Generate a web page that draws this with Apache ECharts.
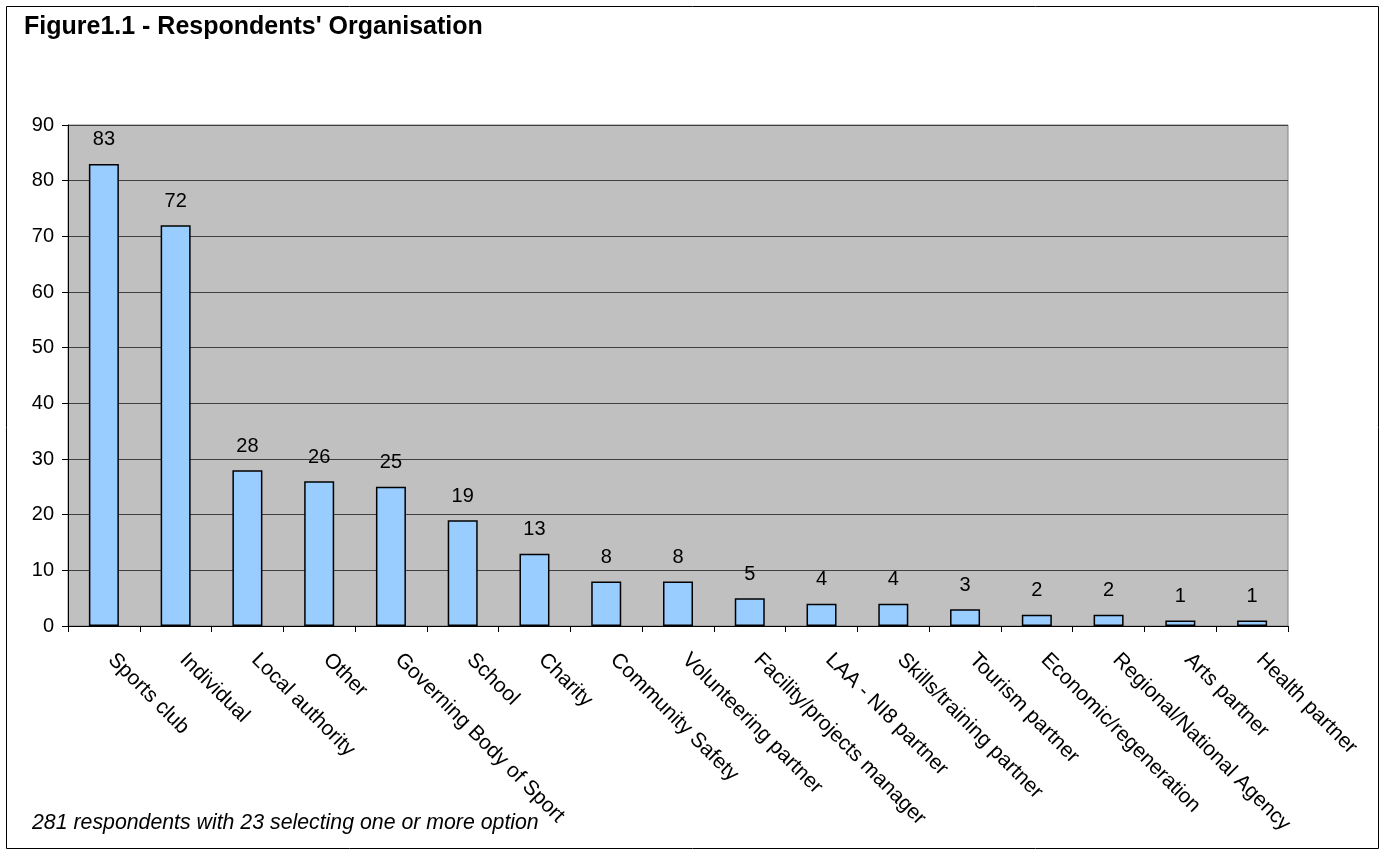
<!DOCTYPE html>
<html><head><meta charset="utf-8">
<script src="https://cdn.jsdelivr.net/npm/echarts@6/dist/echarts.min.js"></script>
<style>html,body{margin:0;padding:0;background:#fff}#c{width:1382px;height:852px}</style>
</head><body><div id="c"></div>
<script>
const categories = ["Sports club","Individual","Local authority","Other","Governing Body of Sport","School","Charity","Community Safety","Volunteering partner","Facility/projects manager","LAA - NI8 partner","Skills/training partner","Tourism partner","Economic/regeneration","Regional/National Agency","Arts partner","Health partner"];
const values = [83,72,28,26,25,19,13,8,8,5,4,4,3,2,2,1,1];
const yTicks = {min:0, max:90, interval:10};
const titleText = "Figure1.1 - Respondents' Organisation";
const noteText = "281 respondents with 23 selecting one or more option";

const chart = echarts.init(document.getElementById('c'));
const F = 'Liberation Sans, Arial, sans-serif';
chart.setOption({
  animation:false,
  graphic:[
    {type:'rect', shape:{x:6.5,y:6.5,width:1372,height:842}, style:{fill:'none',stroke:'#000',lineWidth:1}, z:-1},
    {type:'text', left:24, top:15, style:{text:titleText, font:'bold 25px '+F, fill:'#000'}},
    {type:'text', left:32, top:813, style:{text:noteText, font:'italic 21.3px '+F, fill:'#000'}}
  ],
  grid:{left:68, right:94, top:125, bottom:226, show:true, backgroundColor:'#C0C0C0', borderColor:'#808080', borderWidth:1},
  xAxis:{type:'category', data:categories,
    axisLine:{lineStyle:{color:'#000',width:1}},
    axisTick:{show:true, alignWithLabel:false, length:6, lineStyle:{color:'#000'}},
    axisLabel:{rotate:-45, interval:0, color:'#000', fontFamily:F, fontSize:21, margin:38, verticalAlign:'bottom'}},
  yAxis:{type:'value', min:yTicks.min, max:yTicks.max, interval:yTicks.interval,
    axisLine:{show:true, lineStyle:{color:'#000'}},
    axisTick:{show:true, length:6, lineStyle:{color:'#000'}},
    axisLabel:{color:'#000', fontFamily:F, fontSize:20, margin:14},
    splitLine:{lineStyle:{color:'#404040', width:1}}},
  series:[{type:'bar', data:values, barWidth:30,
    itemStyle:{color:'#99CCFF', borderColor:'#000', borderWidth:1.5},
    label:{show:true, position:'top', distance:14, color:'#000', fontFamily:F, fontSize:20}}]
});
</script></body></html>
